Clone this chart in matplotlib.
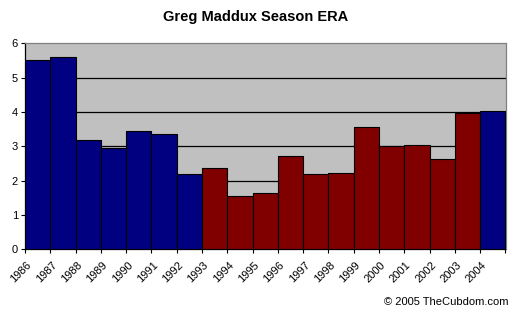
import matplotlib
matplotlib.use("Agg")
import matplotlib.pyplot as plt
import numpy as np

plt.rcParams['font.family'] = ['Liberation Sans', 'DejaVu Sans']

years = ['1986', '1987', '1988', '1989', '1990', '1991', '1992', '1993', '1994', '1995',
         '1996', '1997', '1998', '1999', '2000', '2001', '2002', '2003', '2004']
era = [5.52, 5.61, 3.18, 2.95, 3.46, 3.35, 2.18, 2.36, 1.56, 1.63,
       2.72, 2.20, 2.22, 3.57, 3.00, 3.05, 2.62, 3.96, 4.02]
team = ['CHC'] * 7 + ['ATL'] * 11 + ['CHC']
team_colors = {'CHC': '#000080', 'ATL': '#800000'}

fig = plt.figure(figsize=(5.12, 3.14), dpi=100)
ax = fig.add_axes([25 / 512, 1 - 249.3 / 314, (505.5 - 25) / 512, (249.3 - 43.3) / 314])
ax.set_facecolor('#C0C0C0')

x = np.arange(len(years))
ax.bar(x, era, width=1.0, align='edge', color=[team_colors[t] for t in team],
       edgecolor='black', linewidth=0.8, zorder=3)

ax.set_xlim(0, len(years))
ax.set_ylim(0, 6)
ax.set_yticks(range(0, 7))
ax.set_yticklabels([str(v) for v in range(0, 7)], fontsize=8)
for v in range(1, 6):
    ax.axhline(v, color='black', linewidth=0.9, zorder=1)

ax.set_xticks(np.arange(len(years) + 1))
ax.set_xticklabels([''] * (len(years) + 1))
for i, y in enumerate(years):
    ax.text(i + 0.05, -0.3, y, rotation=45, ha='right', va='top', rotation_mode='anchor',
            fontsize=8, transform=ax.transData)

ax.tick_params(axis='both', direction='out', length=3, width=0.8, colors='black', pad=2)
ax.spines['left'].set_color('black')
ax.spines['bottom'].set_color('black')
ax.spines['top'].set_color('#808080')
ax.spines['right'].set_color('#808080')
for s in ax.spines.values():
    s.set_linewidth(0.9)

fig.text(0.5, 1 - 17 / 314, 'Greg Maddux Season ERA', ha='center', va='center',
         fontsize=10.5, fontweight='bold')
fig.text(508 / 512, 1 - 302 / 314, '© 2005 TheCubdom.com', ha='right', va='center',
         fontsize=8)

fig.savefig('out.png', dpi=100)
